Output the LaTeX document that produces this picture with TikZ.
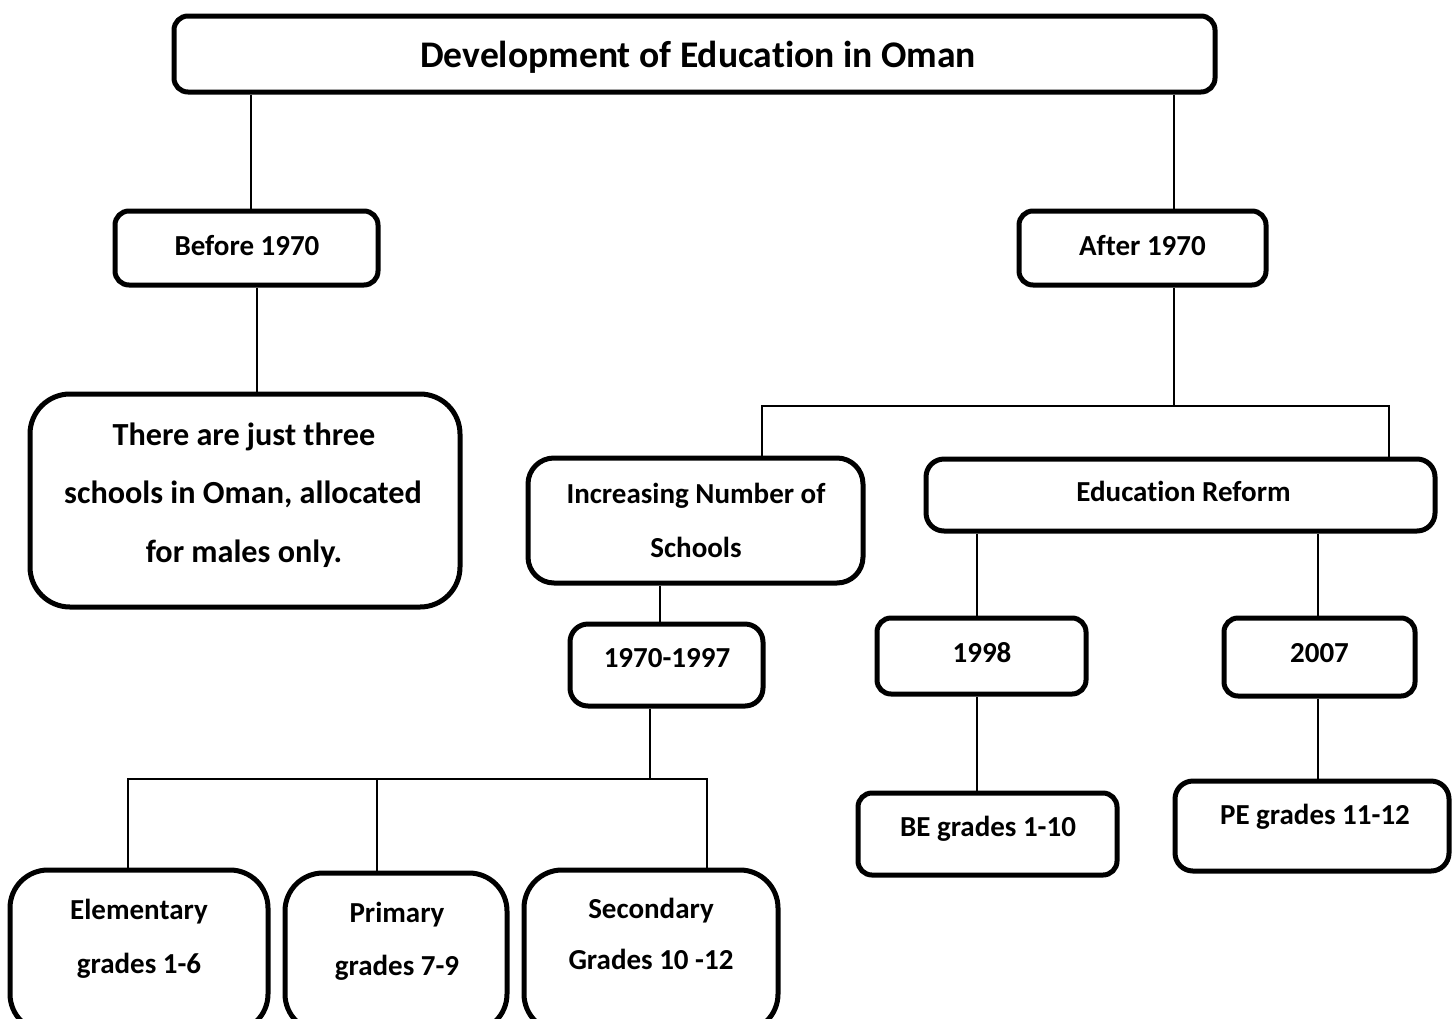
\documentclass[tikz,border=0pt]{standalone}
\usepackage{fontspec}
\setmainfont{Carlito}[Ligatures=NoCommon]
\usetikzlibrary{fit}
\begin{document}
\begin{tikzpicture}[x=1pt,y=-1pt,
  box/.style={draw=black, line width=5pt, rounded corners=#1, inner sep=0pt, fill=white},
  box/.default=14pt,
  conn/.style={draw=black, line width=1.4pt},
  txt/.style={inner sep=0pt, anchor=base, font=\bfseries\fontsize{29}{35}\selectfont},
  note/.style={inner sep=0pt, anchor=base, font=\bfseries\fontsize{32.2}{38}\selectfont},
  head/.style={inner sep=0pt, anchor=base, font=\bfseries\fontsize{37.6}{44}\selectfont}]
\useasboundingbox (0,0) rectangle (1453,1018);
\fill[white] (0,0) rectangle (1453,1018);

% boxes
\node[box, fit={(174,16)(1215,92)}] (title) {};
\node[box, fit={(115,211)(378,285)}] (before) {};
\node[box, fit={(1019,211)(1266,285)}] (after) {};
\node[box=40pt, fit={(30,394)(460,607)}] (three) {};
\node[box=26pt, fit={(528,458)(863,583)}] (incr) {};
\node[box=18pt, fit={(926,459)(1435,531)}] (reform) {};
\node[box=18pt, fit={(570,624)(763,706)}] (period) {};
\node[box, fit={(877,618)(1086,694)}] (y1998) {};
\node[box, fit={(1224,618)(1415,696)}] (y2007) {};
\node[box, fit={(858,793)(1117,875)}] (be) {};
\node[box=18pt, fit={(1175,781)(1449,871)}] (pe) {};
\node[box=38pt, fit={(10,870)(268,1032)}] (elem) {};
\node[box=38pt, fit={(285,873)(507,1032)}] (prim) {};
\node[box=38pt, fit={(524,870)(778,1032)}] (sec) {};

% connector positions
\coordinate (xBefore) at (251,0);
\coordinate (xThree) at (257,0);
\coordinate (jAfter) at (1174,406);
\coordinate (xIncr) at (762,0);
\coordinate (xReform) at (1389,0);
\coordinate (xPeriod) at (660,0);
\coordinate (jPeriod) at (650,779);
\coordinate (hL) at (128,779);
\coordinate (hM) at (377,779);
\coordinate (hR) at (707,779);
\coordinate (x1998) at (977,0);
\coordinate (x2007) at (1318,0);

% connectors
\draw[conn] (title.south -| xBefore) -- (before.north -| xBefore);
\draw[conn] (title.south -| jAfter) -- (after.north -| jAfter);
\draw[conn] (before.south -| xThree) -- (three.north -| xThree);
\draw[conn] (after.south -| jAfter) -- (jAfter);
\draw[conn] (incr.north -| xIncr) |- (jAfter) -| (reform.north -| xReform);
\draw[conn] (incr.south -| xPeriod) -- (period.north -| xPeriod);
\draw[conn] (period.south -| jPeriod) -- (jPeriod);
\draw[conn] (elem.north -| hL) -- (hL) -- (hR) -- (sec.north -| hR);
\draw[conn] (hM) -- (prim.north -| hM);
\draw[conn] (reform.south -| x1998) -- (y1998.north -| x1998);
\draw[conn] (reform.south -| x2007) -- (y2007.north -| x2007);
\draw[conn] (y1998.south -| x1998) -- (be.north -| x1998);
\draw[conn] (y2007.south -| x2007) -- (pe.north -| x2007);

% texts
\node[head] (t-title) at (698,67) {Development of Education in Oman};
\node[txt] (t-before) at (247,255) {Before 1970};
\node[txt] (t-after) at (1142.5,255) {After 1970};
\node[note] (t-three1) at (244,445) {There are just three};
\node[note] (t-three2) at (243,503) {schools in Oman, allocated};
\node[note] (t-three3) at (244,562) {for males only.};
\node[txt] (t-incr1) at (696,503) {Increasing Number of};
\node[txt] (t-incr2) at (696,557) {Schools};
\node[txt] (t-reform) at (1183.5,501) {Education Reform};
\node[txt] (t-period) at (667,667) {1970-1997};
\node[txt] (t-1998) at (982,662) {1998};
\node[txt] (t-2007) at (1319.5,662) {2007};
\node[txt] (t-be) at (988,836) {BE grades 1-10};
\node[txt] (t-pe) at (1315,824) {PE grades 11-12};
\node[txt] (t-elem1) at (139,919) {Elementary};
\node[txt] (t-elem2) at (139,973) {grades 1-6};
\node[txt] (t-prim1) at (397,922) {Primary};
\node[txt] (t-prim2) at (397,975) {grades 7-9};
\node[txt] (t-sec1) at (651,918) {Secondary};
\node[txt] (t-sec2) at (651,969) {Grades 10 -12};
\end{tikzpicture}
\end{document}
